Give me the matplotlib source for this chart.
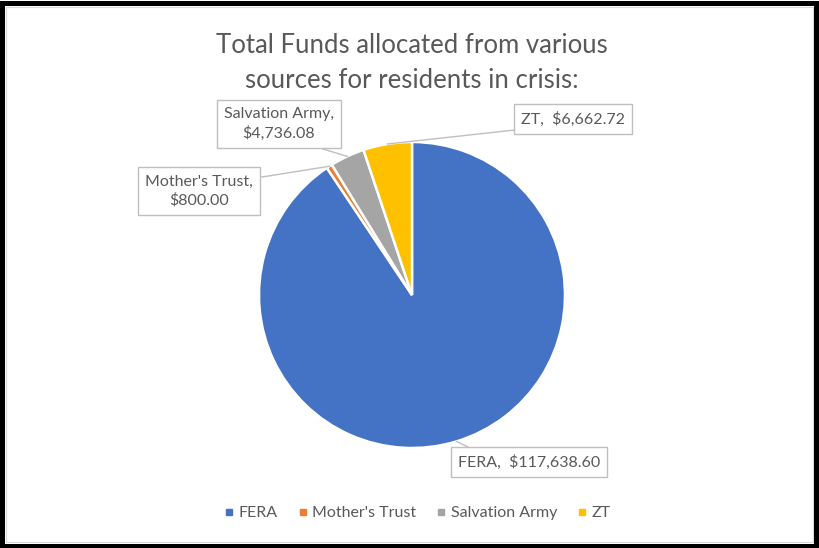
import numpy as np
import matplotlib
matplotlib.use("Agg")
import matplotlib.pyplot as plt
from matplotlib.lines import Line2D
from matplotlib.patches import Rectangle

plt.rcParams["font.family"] = ["Lato", "DejaVu Sans"]

# ── data ────────────────────────────────────────────────
sources = ["FERA", "Mother's Trust", "Salvation Army", "ZT"]
amounts = [117638.60, 800.00, 4736.08, 6662.72]
colors = ["#4472C4", "#ED7D31", "#A5A5A5", "#FFC000"]

# label text + box centre / leader start (pixel layout, y from top)
label_text = ["FERA,  $117,638.60", "Mother's Trust,\n$800.00",
              "Salvation Army,\n$4,736.08", "ZT,  $6,662.72"]
label_pos = [(529, 462), (199, 191), (279, 124), (573, 119)]
leader_from = [(470, 448), (262, 177), (323, 149), (515, 130)]

W, H = 820, 548
TEXT = "#595959"

fig = plt.figure(figsize=(W / 100, H / 100), dpi=100, facecolor="white")
ax = fig.add_axes([0, 0, 1, 1])

cx, cy, r = 412, H - 295, 153
wedges, _ = ax.pie(amounts, colors=colors, startangle=90, counterclock=False,
                   center=(cx, cy), radius=r,
                   wedgeprops=dict(edgecolor="white", linewidth=1.8))
ax.set_xlim(0, W)
ax.set_ylim(0, H)
ax.set_aspect("equal")
ax.axis("off")

# data labels with leader lines
for w, txt, (tx, ty), (lx, ly) in zip(wedges, label_text, label_pos, leader_from):
    mid = np.deg2rad((w.theta1 + w.theta2) / 2)
    px, py = cx + r * np.cos(mid), cy + r * np.sin(mid)
    ax.plot([lx, px], [H - ly, py], color="#bfbfbf", lw=1.0, zorder=1)
    ax.text(tx, H - ty, txt, ha="center", va="center", fontsize=11.5,
            color=TEXT, linespacing=1.4, zorder=3,
            bbox=dict(boxstyle="square,pad=0.45", facecolor="white",
                      edgecolor="#bfbfbf", linewidth=1.0))

# title
fig.text(412 / W, 1 - 63 / H,
         "Total Funds allocated from various\nsources for residents in crisis:",
         ha="center", va="center", fontsize=18.5, color=TEXT, linespacing=1.5)

# legend
handles = [Line2D([], [], marker="s", linestyle="none", markersize=5,
                  markerfacecolor=c, markeredgecolor=c) for c in colors]
fig.legend(handles, sources, loc="center", bbox_to_anchor=(416 / W, 1 - 513 / H),
           ncol=4, frameon=False, fontsize=11.5, labelcolor=TEXT,
           handletextpad=0.1, columnspacing=1.05, handlelength=1.0)

# chart area border + outer black frame
fig.patches.append(Rectangle((6 / W, 6 / H), 1 - 13 / W, 1 - 13 / H,
                             transform=fig.transFigure, fill=False,
                             edgecolor="#d9d9d9", lw=0.8))
fig.patches.append(Rectangle((2.5 / W, 2.5 / H), 1 - 6 / W, 1 - 5 / H,
                             transform=fig.transFigure, fill=False,
                             edgecolor="black", lw=3.6))

fig.savefig("out.png", dpi=100, facecolor="white")
